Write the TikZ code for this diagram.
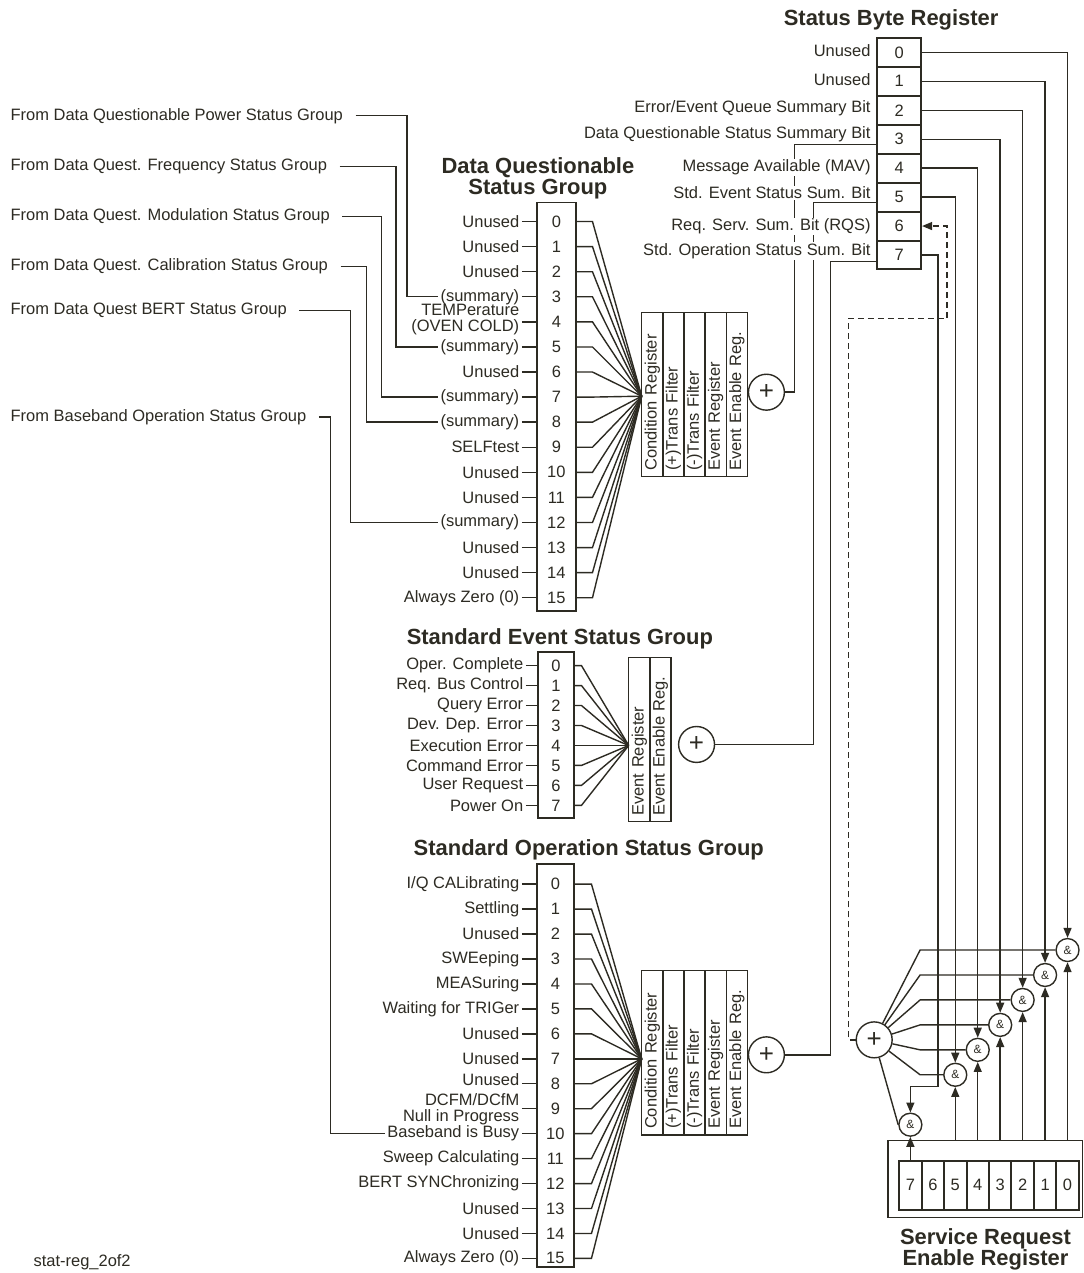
\documentclass[tikz,border=0pt]{standalone}
\usepackage{fontspec}
\setmainfont{Liberation Sans}
\usetikzlibrary{arrows.meta}
\definecolor{ink}{RGB}{45,43,35}
\newcommand{\lbfont}{\fontsize{16.5}{16}\selectfont}
\tikzset{
	lbl/.style={anchor=east,font=\lbfont,inner xsep=2pt,inner ysep=0.5pt,align=right},
	sbl/.style={anchor=east,font=\lbfont,fill=white,inner xsep=1pt,inner ysep=1pt},
	frm/.style={anchor=west,font=\lbfont,inner sep=0pt},
	head/.style={font=\bfseries\fontsize{22}{21}\selectfont,align=center},
	bitno/.style={font=\lbfont,inner sep=0pt,minimum height=14},
	dqbit/.style={bitno,minimum width=39},
	sebit/.style={bitno,minimum width=36},
	sobit/.style={bitno,minimum width=37},
	bitreg/.style={draw,line width=1.8pt,inner sep=0pt},
	sbox/.style={draw,line width=2pt,minimum width=44,minimum height=29,inner sep=0pt,font=\lbfont},
	regcol/.style={draw,rotate=90,minimum width=164.5,minimum height=21.2,inner xsep=6pt,inner ysep=0pt,text width=152.5,align=left,font=\lbfont},
	orc/.style={draw,circle,minimum size=36,inner sep=0pt,font=\fontsize{26}{26}\selectfont},
	andc/.style={draw,circle,minimum size=23,inner sep=0pt,font=\fontsize{12}{12}\selectfont},
	srcell/.style={draw,line width=2pt,minimum width=22.5,minimum height=49,inner sep=0pt,font=\lbfont}
}
\begin{document}
\begin{tikzpicture}[x=1pt,y=-1pt,line width=1.4pt,color=ink,>={Triangle[length=10pt,width=8pt]}]
	\path [fill=white] (0,0) rectangle (1086,1273);

	% Status Byte Register
	\node [head] (sbh) at (893,20) {Status Byte Register};
	\node [sbox] (sb0) at (901,52.5) {0};
	\node [sbox] (sb1) at (901,81.5) {1};
	\node [sbox] (sb2) at (901,110.5) {2};
	\node [sbox] (sb3) at (901,139.5) {3};
	\node [sbox] (sb4) at (901,168.5) {4};
	\node [sbox] (sb5) at (901,197.5) {5};
	\node [sbox] (sb6) at (901,226.5) {6};
	\node [sbox] (sb7) at (901,255.5) {7};

	% Data Questionable Status Group
	\node [head] (dqh) at (539,179) {Data Questionable\\Status Group};
	\node [bitreg,minimum width=39,minimum height=409] (dqreg) at (557.5,407.5) {};
	\node [lbl] (lq0) at (523,222) {Unused};
	\node [lbl] (lq1) at (523,247.1) {Unused};
	\node [lbl] (lq2) at (523,272.3) {Unused};
	\node [lbl] (lq3) at (523,297.4) {(summary)};
	\node [lbl] (lq4) at (523,320) {TEMPerature\\(OVEN COLD)};
	\node [lbl] (lq5) at (523,347.7) {(summary)};
	\node [lbl] (lq6) at (523,372.8) {Unused};
	\node [lbl] (lq7) at (523,397.9) {(summary)};
	\node [lbl] (lq8) at (523,423) {(summary)};
	\node [lbl] (lq9) at (523,448.2) {SELFtest};
	\node [lbl] (lq10) at (523,473.3) {Unused};
	\node [lbl] (lq11) at (523,498.4) {Unused};
	\node [lbl] (lq12) at (523,523.6) {(summary)};
	\node [lbl] (lq13) at (523,548.7) {Unused};
	\node [lbl] (lq14) at (523,573.8) {Unused};
	\node [lbl] (lq15) at (523,599) {Always Zero (0)};
	\node [dqbit] (q0) at (557.5,222) {0};
	\node [dqbit] (q1) at (557.5,247.1) {1};
	\node [dqbit] (q2) at (557.5,272.3) {2};
	\node [dqbit] (q3) at (557.5,297.4) {3};
	\node [dqbit] (q4) at (557.5,322.5) {4};
	\node [dqbit] (q5) at (557.5,347.7) {5};
	\node [dqbit] (q6) at (557.5,372.8) {6};
	\node [dqbit] (q7) at (557.5,397.9) {7};
	\node [dqbit] (q8) at (557.5,423) {8};
	\node [dqbit] (q9) at (557.5,448.2) {9};
	\node [dqbit] (q10) at (557.5,473.3) {10};
	\node [dqbit] (q11) at (557.5,498.4) {11};
	\node [dqbit] (q12) at (557.5,523.6) {12};
	\node [dqbit] (q13) at (557.5,548.7) {13};
	\node [dqbit] (q14) at (557.5,573.8) {14};
	\node [dqbit] (q15) at (557.5,599) {15};
	\path (lq0) edge (q0);
	\path (lq1) edge (q1);
	\path (lq2) edge (q2);
	\path (lq3) edge (q3);
	\draw (lq4.east |- q4) -- (q4);
	\path (lq5) edge (q5);
	\path (lq6) edge (q6);
	\path (lq7) edge (q7);
	\path (lq8) edge (q8);
	\path (lq9) edge (q9);
	\path (lq10) edge (q10);
	\path (lq11) edge (q11);
	\path (lq12) edge (q12);
	\path (lq13) edge (q13);
	\path (lq14) edge (q14);
	\path (lq15) edge (q15);
	\coordinate (dqc) at (643,397);
	\draw (q0.east) -- ++(16,0) -- (dqc);
	\draw (q1.east) -- ++(16,0) -- (dqc);
	\draw (q2.east) -- ++(16,0) -- (dqc);
	\draw (q3.east) -- ++(16,0) -- (dqc);
	\draw (q4.east) -- ++(16,0) -- (dqc);
	\draw (q5.east) -- ++(16,0) -- (dqc);
	\draw (q6.east) -- ++(16,0) -- (dqc);
	\draw (q7.east) -- ++(16,0) -- (dqc);
	\draw (q8.east) -- ++(16,0) -- (dqc);
	\draw (q9.east) -- ++(16,0) -- (dqc);
	\draw (q10.east) -- ++(16,0) -- (dqc);
	\draw (q11.east) -- ++(16,0) -- (dqc);
	\draw (q12.east) -- ++(16,0) -- (dqc);
	\draw (q13.east) -- ++(16,0) -- (dqc);
	\draw (q14.east) -- ++(16,0) -- (dqc);
	\draw (q15.east) -- ++(16,0) -- (dqc);
	\node [regcol] (dqr1) at (653.6,395.5) {Condition Register};
	\node [regcol] (dqr2) at (674.8,395.5) {(+)Trans Filter};
	\node [regcol] (dqr3) at (696,395.5) {(-)Trans Filter};
	\node [regcol] (dqr4) at (717.2,395.5) {Event Register};
	\node [regcol] (dqr5) at (738.4,395.5) {Event Enable Reg.};
	\node [orc] (dqor) at (768,393) {+};

	% inputs from the other groups
	\node [frm] (fpow) at (10,116) {From Data Questionable Power Status Group};
	\node [frm] (ffrq) at (10,167) {From Data Quest. Frequency Status Group};
	\node [frm] (fmod) at (10,217) {From Data Quest. Modulation Status Group};
	\node [frm] (fcal) at (10,267) {From Data Quest. Calibration Status Group};
	\node [frm] (fbert) at (10,311) {From Data Quest BERT Status Group};
	\node [frm] (fbb) at (10,418) {From Baseband Operation Status Group};
	\draw (fpow.east) ++(12,0) -| (408,297.4) -- (lq3);
	\draw (ffrq.east) ++(12,0) -| (397,347.7) -- (lq5);
	\draw (fmod.east) ++(12,0) -| (382,397.9) -- (lq7);
	\draw (fcal.east) ++(12,0) -| (367,423) -- (lq8);
	\draw (fbert.east) ++(12,0) -| (351,523.6) -- (lq12);

	% Standard Event Status Group
	\node [head] (seh) at (561,640) {Standard Event Status Group};
	\node [bitreg,minimum width=36,minimum height=167] (sereg) at (557,736.5) {};
	\node [lbl] (ls0) at (527,667) {Oper. Complete};
	\node [lbl] (ls1) at (527,687) {Req. Bus Control};
	\node [lbl] (ls2) at (527,707) {Query Error};
	\node [lbl] (ls3) at (527,727) {Dev. Dep. Error};
	\node [lbl] (ls4) at (527,747) {Execution Error};
	\node [lbl] (ls5) at (527,767) {Command Error};
	\node [lbl] (ls6) at (527,787) {User Request};
	\node [lbl] (ls7) at (527,807) {Power On};
	\node [sebit] (s0) at (557,667) {0};
	\node [sebit] (s1) at (557,687) {1};
	\node [sebit] (s2) at (557,707) {2};
	\node [sebit] (s3) at (557,727) {3};
	\node [sebit] (s4) at (557,747) {4};
	\node [sebit] (s5) at (557,767) {5};
	\node [sebit] (s6) at (557,787) {6};
	\node [sebit] (s7) at (557,807) {7};
	\path (ls0) edge (s0);
	\path (ls1) edge (s1);
	\path (ls2) edge (s2);
	\path (ls3) edge (s3);
	\path (ls4) edge (s4);
	\path (ls5) edge (s5);
	\path (ls6) edge (s6);
	\path (ls7) edge (s7);
	\coordinate (sec) at (630,747);
	\draw (s0.east) -- ++(7,0) -- (sec);
	\draw (s1.east) -- ++(7,0) -- (sec);
	\draw (s2.east) -- ++(7,0) -- (sec);
	\draw (s3.east) -- ++(7,0) -- (sec);
	\draw (s4.east) -- ++(7,0) -- (sec);
	\draw (s5.east) -- ++(7,0) -- (sec);
	\draw (s6.east) -- ++(7,0) -- (sec);
	\draw (s7.east) -- ++(7,0) -- (sec);
	\node [regcol] (ser1) at (640.6,741) {Event Register};
	\node [regcol] (ser2) at (661.8,741) {Event Enable Reg.};
	\node [orc] (seor) at (698,746) {+};

	% Standard Operation Status Group
	\node [head] (soh) at (590,852) {Standard Operation Status Group};
	\node [bitreg,minimum width=37,minimum height=404] (soreg) at (556.5,1068) {};
	\node [lbl] (lo0) at (523,886) {I/Q CALibrating};
	\node [lbl] (lo1) at (523,911) {Settling};
	\node [lbl] (lo2) at (523,936) {Unused};
	\node [lbl] (lo3) at (523,961) {SWEeping};
	\node [lbl] (lo4) at (523,986) {MEASuring};
	\node [lbl] (lo5) at (523,1011) {Waiting for TRIGer};
	\node [lbl] (lo6) at (523,1036) {Unused};
	\node [lbl] (lo7) at (523,1061) {Unused};
	\node [lbl] (lo8) at (523,1082) {Unused};
	\node [lbl] (lo9) at (523,1112) {DCFM/DCfM\\Null in Progress};
	\node [lbl] (lo10) at (523,1136) {Baseband is Busy};
	\node [lbl] (lo11) at (523,1161) {Sweep Calculating};
	\node [lbl] (lo12) at (523,1186) {BERT SYNChronizing};
	\node [lbl] (lo13) at (523,1211) {Unused};
	\node [lbl] (lo14) at (523,1236) {Unused};
	\node [lbl] (lo15) at (523,1261) {Always Zero (0)};
	\node [sobit] (o0) at (556.5,886) {0};
	\node [sobit] (o1) at (556.5,911) {1};
	\node [sobit] (o2) at (556.5,936) {2};
	\node [sobit] (o3) at (556.5,961) {3};
	\node [sobit] (o4) at (556.5,986) {4};
	\node [sobit] (o5) at (556.5,1011) {5};
	\node [sobit] (o6) at (556.5,1036) {6};
	\node [sobit] (o7) at (556.5,1061) {7};
	\node [sobit] (o8) at (556.5,1086) {8};
	\node [sobit] (o9) at (556.5,1111) {9};
	\node [sobit] (o10) at (556.5,1136) {10};
	\node [sobit] (o11) at (556.5,1161) {11};
	\node [sobit] (o12) at (556.5,1186) {12};
	\node [sobit] (o13) at (556.5,1211) {13};
	\node [sobit] (o14) at (556.5,1236) {14};
	\node [sobit] (o15) at (556.5,1261) {15};
	\path (lo0) edge (o0);
	\path (lo1) edge (o1);
	\path (lo2) edge (o2);
	\path (lo3) edge (o3);
	\path (lo4) edge (o4);
	\path (lo5) edge (o5);
	\path (lo6) edge (o6);
	\path (lo7) edge (o7);
	\draw (lo8.east |- o8) -- (o8);
	\draw (lo9.east |- o9) -- (o9);
	\path (lo10) edge (o10);
	\path (lo11) edge (o11);
	\path (lo12) edge (o12);
	\path (lo13) edge (o13);
	\path (lo14) edge (o14);
	\path (lo15) edge (o15);
	\coordinate (soc) at (643,1061);
	\draw (o0.east) -- ++(17,0) -- (soc);
	\draw (o1.east) -- ++(17,0) -- (soc);
	\draw (o2.east) -- ++(17,0) -- (soc);
	\draw (o3.east) -- ++(17,0) -- (soc);
	\draw (o4.east) -- ++(17,0) -- (soc);
	\draw (o5.east) -- ++(17,0) -- (soc);
	\draw (o6.east) -- ++(17,0) -- (soc);
	\draw (o7.east) -- ++(17,0) -- (soc);
	\draw (o8.east) -- ++(17,0) -- (soc);
	\draw (o9.east) -- ++(17,0) -- (soc);
	\draw (o10.east) -- ++(17,0) -- (soc);
	\draw (o11.east) -- ++(17,0) -- (soc);
	\draw (o12.east) -- ++(17,0) -- (soc);
	\draw (o13.east) -- ++(17,0) -- (soc);
	\draw (o14.east) -- ++(17,0) -- (soc);
	\draw (o15.east) -- ++(17,0) -- (soc);
	\node [regcol] (sor1) at (653.6,1055) {Condition Register};
	\node [regcol] (sor2) at (674.8,1055) {(+)Trans Filter};
	\node [regcol] (sor3) at (696,1055) {(-)Trans Filter};
	\node [regcol] (sor4) at (717.2,1055) {Event Register};
	\node [regcol] (sor5) at (738.4,1055) {Event Enable Reg.};
	\node [orc] (soor) at (768,1057) {+};
	\draw (fbb.east) ++(12,0) -| (331,1136) -- (lo10);

	% summaries into the status byte
	\coordinate (dqin) at (796,145);
	\coordinate (sein) at (815,203);
	\coordinate (soin) at (832,262);
	\draw (dqor) -| (dqin) -- (dqin -| sb3.west);
	\draw (seor) -| (sein) -- (sein -| sb5.west);
	\draw (soor) -| (soin) -- (soin -| sb7.west);

	% Service Request Enable Register
	\node [draw,minimum width=195,minimum height=77,inner sep=0pt] (sre) at (987.5,1181.5) {};
	\node [srcell] (r7) at (912.25,1187.5) {7};
	\node [srcell] (r6) at (934.75,1187.5) {6};
	\node [srcell] (r5) at (957.25,1187.5) {5};
	\node [srcell] (r4) at (979.75,1187.5) {4};
	\node [srcell] (r3) at (1002.25,1187.5) {3};
	\node [srcell] (r2) at (1024.75,1187.5) {2};
	\node [srcell] (r1) at (1047.25,1187.5) {1};
	\node [srcell] (r0) at (1069.75,1187.5) {0};
	\node [head] (sreh) at (987.5,1251.5) {Service Request\\Enable Register};

	\node [andc] (g0) at (1069.75,952) {\&};
	\node [andc] (g1) at (1047.25,977) {\&};
	\node [andc] (g2) at (1024.75,1002) {\&};
	\node [andc] (g3) at (1002.25,1027) {\&};
	\node [andc] (g4) at (979.75,1052) {\&};
	\node [andc] (g5) at (957.25,1077) {\&};
	\node [andc] (g7) at (912.25,1127) {\&};
	\node [orc] (bor) at (876,1042) {+};

	\draw [->] (sb0) -| (g0);
	\draw [->] (sb1) -| (g1);
	\draw [->] (sb2) -| (g2);
	\draw [->] (sb3) -| (g3);
	\draw [->] (sb4) -| (g4);
	\draw [->] (sb5) -| (g5);
	\draw [->] (sb7) -| (940,1089) -| (g7);
	\draw [->] (r0 |- sre.north) -- (g0);
	\draw [->] (r1 |- sre.north) -- (g1);
	\draw [->] (r2 |- sre.north) -- (g2);
	\draw [->] (r3 |- sre.north) -- (g3);
	\draw [->] (r4 |- sre.north) -- (g4);
	\draw [->] (r5 |- sre.north) -- (g5);
	\draw [->] (r7) -- (g7);
	\draw (bor) -- (922,952) -- (g0);
	\draw (bor) -- (922,977) -- (g1);
	\draw (bor) -- (922,1002) -- (g2);
	\draw (bor) -- (922,1027) -- (g3);
	\draw (bor) -- (922,1052) -- (g4);
	\draw (bor) -- (922,1077) -- (g5);
	\draw (bor) -- (g7.west);
	\draw [dash pattern=on 6pt off 4pt,->] (bor.west) -| (850,319) -| (949,226.5) -- (sb6);

	% status byte texts
	\node [sbl] (lb0) at (874,51) {Unused};
	\node [sbl] (lb1) at (874,80) {Unused};
	\node [sbl] (lb2) at (874,108.5) {Error/Event Queue Summary Bit};
	\node [sbl] (lb3) at (874,135) {Data Questionable Status Summary Bit};
	\node [sbl] (lb4) at (874,168) {Message Available (MAV)};
	\node [sbl] (lb5) at (874,193) {Std. Event Status Sum. Bit};
	\node [sbl] (lb6) at (874,227) {Req. Serv. Sum. Bit (RQS)};
	\node [sbl] (lb7) at (874,251.5) {Std. Operation Status Sum. Bit};

	\node [frm] (fn) at (33,1265) {stat-reg\_2of2};
\end{tikzpicture}
\end{document}
